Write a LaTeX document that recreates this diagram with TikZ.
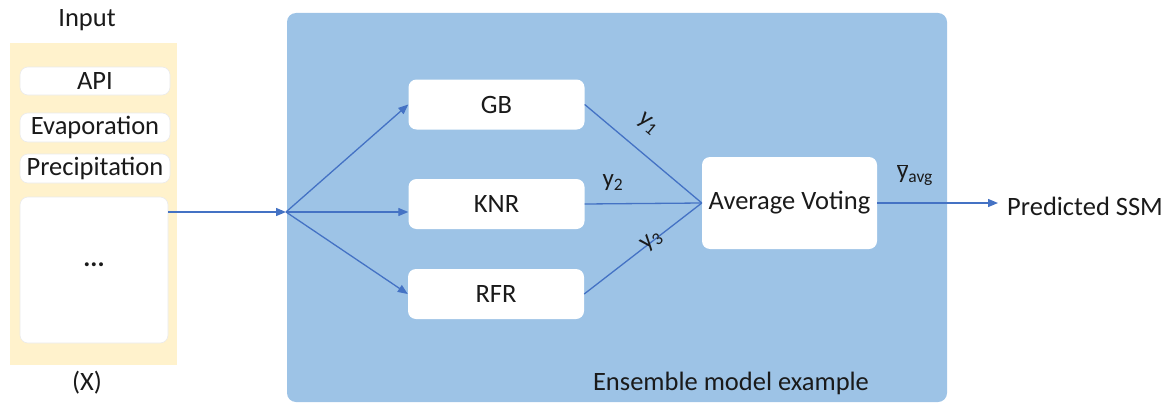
\documentclass[tikz,border=0pt]{standalone}
\usepackage{fontspec}
\setmainfont{Carlito}
\usetikzlibrary{arrows.meta}
\definecolor{panelblue}{HTML}{9DC3E6}
\definecolor{panelyellow}{HTML}{FFF2CC}
\definecolor{linkblue}{HTML}{4472C4}
\definecolor{txt}{HTML}{1A1A1A}
\begin{document}
\begin{tikzpicture}[x=1pt,y=-1pt,
  every node/.style={text=txt},
  lbl/.style={font=\fontsize{26.5}{30}\selectfont, inner sep=0pt},
  ylab/.style={font=\fontsize{25}{29}\selectfont, inner sep=0pt},
  model/.style={fill=white, rounded corners=8pt, minimum width=176pt, minimum height=50pt, inner sep=0pt, font=\fontsize{26.5}{30}\selectfont},
  feat/.style={fill=white, draw=black!8, line width=0.6pt, rounded corners=8pt, minimum width=150pt, inner sep=0pt, font=\fontsize{26.5}{30}\selectfont},
  link/.style={draw=linkblue, line width=1.3pt},
  arr/.style={link, -{Triangle[length=10pt,width=8pt]}}]
\useasboundingbox (0,0) rectangle (1166,404);
\clip (0,0) rectangle (1166,404);
% input panel
\node[fill=panelyellow, minimum width=167pt, minimum height=322pt, inner sep=0pt] (inpanel) at (93.5,204) {};
\node[lbl] (inputlbl) at (87,20) {Input};
\node[lbl] (xlbl) at (87,383) {(X)};
\node[feat, minimum height=28pt] (api) at (95,81) {API};
\node[feat, minimum height=29pt] (evap) at (95,127.5) {Evaporation};
\node[feat, minimum height=29pt] (prec) at (95,168.5) {Precipitation};
\node[feat, minimum width=148pt, minimum height=146pt] (dots) at (94,270) {\raisebox{10pt}{\textbf{...}}};
% ensemble panel
\node[fill=panelblue, rounded corners=9pt, minimum width=660pt, minimum height=389pt, inner sep=0pt] (ens) at (617,207.5) {};
\node[lbl] (enslbl) at (731,383) {Ensemble model example};
\coordinate (fan) at (286,212);
\node[model] (gb) at (496.5,104.5) {GB};
\node[model] (knr) at (496.5,204) {KNR};
\node[model] (rfr) at (496,294) {RFR};
\node[model, minimum width=175pt, minimum height=92pt] (av) at (789.5,203) {Average Voting};
\node[lbl, anchor=west] (ssm) at (1007,206) {Predicted SSM};
% connectors
\draw[arr] (dots.east |- fan) -- (fan);
\draw[arr] (fan) -- (gb.west);
\draw[arr] (fan) -- (knr.west |- fan);
\draw[arr] (fan) -- (rfr.west);
\draw[link] (gb.east) -- (av.west);
\draw[link] (knr.east) -- (av.west);
\draw[link] (rfr.east) -- (av.west);
\draw[arr, shorten >=9pt] (av.east) -- (av.east -| ssm.west);
% output labels
\node[ylab, rotate=-40] (y1) at (648,124) {y\textsubscript{1}};
\node[ylab] (y2) at (613,183) {y\textsubscript{2}};
\node[ylab, rotate=40] (y3) at (652,241) {y\textsubscript{3}};
\node[ylab] (yavg) at (915,175) {$\overline{\mbox{y}}$\textsubscript{avg}};
\end{tikzpicture}
\end{document}
